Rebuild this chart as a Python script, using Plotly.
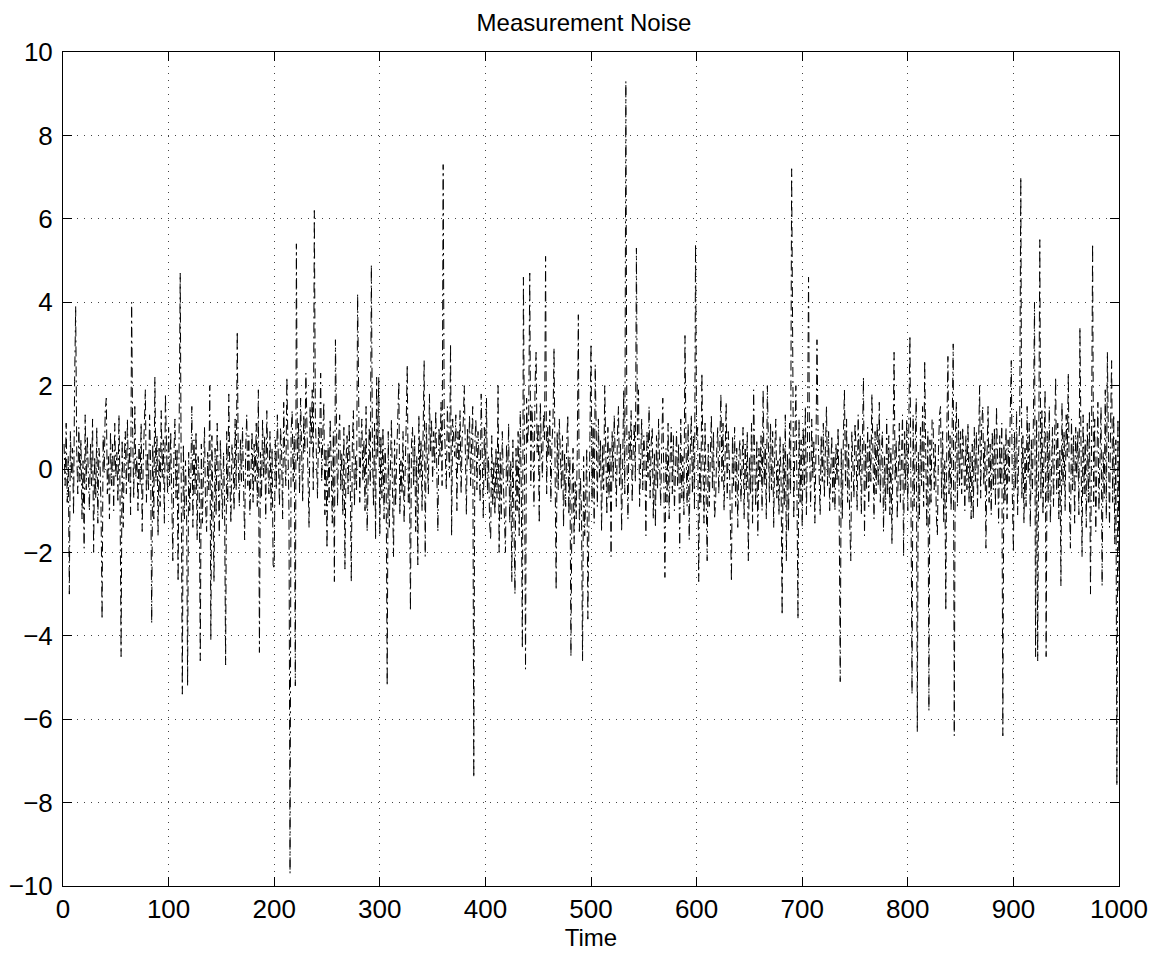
import plotly.graph_objects as go

time = list(range(1, 1001))

noise = [
    0.6, -0.4, 1.1, -0.8, 0.3, -3.0, 0.9, -0.2, 0.5, -1.1,
    2.1, 3.9, 0.4, -0.6, 1.0, -0.3, 0.7, -1.2, 0.2, -1.9,
    1.3, -0.5, 0.8, 0.1, -1.0, 0.6, -0.4, 1.2, -2.0, 0.3,
    -0.7, 1.0, -1.3, 0.5, 0.2, -0.9, -3.6, 0.8, -0.1, 1.4,
    1.7, -0.6, 0.3, -1.2, 0.9, -0.4, 0.6, -1.0, 1.1, -0.2,
    0.4, -0.8, 1.3, -0.5, -4.5, 0.7, -1.4, 0.2, 0.9, -0.6,
    1.2, -0.3, 0.5, -1.1, 4.0, 0.8, -0.7, 1.5, -0.2, 0.3,
    -1.0, 0.6, -0.4, 1.1, -1.5, 0.2, 0.9, 1.9, -0.8, 0.4,
    -0.5, 1.3, 0.1, -3.7, 0.6, -1.2, 2.2, -0.3, 0.8, -1.6,
    0.5, -0.9, 1.4, -0.2, 0.7, -1.3, 1.8, 0.0, -0.6, 1.0,
    -0.4, 0.9, -1.1, -2.2, 0.3, 1.2, -0.7, 0.5, -2.7, 0.1,
    4.7, -0.5, -5.4, 0.6, -1.2, 0.2, -0.8, -5.2, 0.4, -1.0,
    -0.3, 1.5, -1.4, 0.7, -0.6, 0.9, -1.7, 0.3, -0.2, -4.6,
    0.6, -1.3, 0.2, 1.0, -0.9, -1.5, 0.4, -0.5, 2.0, -4.1,
    0.8, -0.6, -2.7, 0.5, -1.1, 1.1, -0.3, -1.6, 0.7, -0.4,
    -1.2, 0.4, -0.7, -4.7, 0.9, -0.8, 1.8, -0.2, -1.3, 0.6,
    0.2, -1.0, 1.2, -0.5, 3.3, 0.1, -0.9, 0.7, -0.3, 1.0,
    -0.6, -1.7, 0.5, 1.3, -0.4, 0.8, -1.1, 0.3, 0.9, -0.8,
    0.6, -0.3, 1.1, -0.9, 1.9, -4.4, 0.4, -0.7, 1.2, -0.2,
    0.8, -1.2, 1.4, 0.1, -0.6, 0.9, -1.0, 0.5, -2.3, -2.4,
    0.7, -0.5, 1.3, 0.2, -0.9, 1.0, 0.4, -1.2, 1.6, 0.3,
    -0.4, 2.2, 0.6, -1.0, -9.7, 0.9, 1.4, -0.3, 0.8, -5.2,
    5.4, 0.2, 1.1, -0.6, 1.7, 0.5, -0.8, 1.3, 0.4, 2.3,
    0.9, -0.2, -1.4, 1.5, 0.6, 1.9, -0.5, 6.2, 1.2, 0.3,
    -0.7, 1.0, 0.4, 2.3, -0.3, 0.8, 1.6, -1.1, 0.5, -1.9,
    0.6, -0.8, 1.2, 0.1, -1.3, 0.9, -2.7, 3.1, 0.3, -0.9,
    0.7, 1.3, -0.5, 0.4, -1.1, 1.0, -2.4, 0.2, 0.8, -0.6,
    1.1, -0.2, -2.7, 0.6, 1.4, -0.9, 0.3, -0.5, 4.2, 0.9,
    -0.8, 0.5, 1.2, -0.3, 0.7, -1.0, 1.5, -1.5, 0.4, 1.0,
    -0.4, 4.9, 0.6, -0.9, 1.1, -1.7, 2.2, 0.3, 2.2, -1.6,
    0.8, -0.7, 1.0, -1.2, 0.5, -0.2, -5.2, 0.9, -1.4, 0.4,
    1.2, -0.5, -2.1, 0.7, -0.9, 0.3, 1.4, 2.1, -1.1, 0.2,
    -0.6, 0.9, -1.3, 0.5, 1.1, 2.5, -0.8, 0.4, -3.4, 0.6,
    1.0, -0.4, 0.8, -1.5, 0.3, -2.3, 1.3, -0.2, 0.7, -1.0,
    0.5, 2.6, -2.1, 1.1, 0.2, -0.6, 1.8, 0.4, 1.2, -0.3,
    0.9, 0.1, 1.4, -0.7, -1.5, 1.0, 0.3, 1.6, -0.4, 7.3,
    1.1, 0.4, -0.5, 1.5, 0.8, -0.2, 3.0, -1.6, 1.2, 0.6,
    0.3, 1.3, -1.0, 0.9, 0.1, 1.4, -0.6, 0.8, 1.1, 2.0,
    0.5, -1.1, 1.0, 0.2, 1.3, -0.4, 0.7, 1.5, -7.4, 0.6,
    1.2, -0.5, 0.9, 0.3, -0.8, 1.8, 0.4, -1.2, 1.0, -0.3,
    1.7, -0.6, 0.3, -1.3, -1.7, 0.8, -0.9, 0.2, -1.1, 0.5,
    -0.7, 2.0, -2.0, 0.4, -1.2, 0.9, -0.3, -1.5, -2.0, 0.6,
    -0.4, 1.1, -1.3, 0.2, -2.7, 0.7, -0.8, -3.0, 0.5, -1.0,
    0.9, -1.6, 1.4, -0.5, -4.3, 4.6, 0.3, -4.8, 1.7, 0.6,
    1.2, 4.7, -0.4, 1.5, 0.8, -0.9, 2.0, 2.8, 0.4, 1.1,
    -1.3, 1.6, 0.5, -0.2, 1.3, 0.7, 5.1, -0.6, 1.0, 0.3,
    1.4, -0.8, 0.6, 1.1, 2.9, -0.3, -2.9, 0.9, -0.5, 1.2,
    0.2, -0.5, 0.8, -1.4, 0.4, -0.9, 0.6, 1.3, -1.1, 0.3,
    -4.5, -0.6, 0.5, -1.8, -0.3, -1.2, 0.4, 3.7, -1.5, -0.2,
    -1.0, -4.6, 0.3, -1.6, -0.7, 0.5, -3.6, -0.4, 0.8, 3.0,
    -0.8, 1.1, -1.3, 2.5, 0.4, -0.9, 1.2, -0.2, 0.7, -1.5,
    0.6, -0.5, 2.0, 0.3, -1.1, 1.0, -0.7, 0.5, -2.1, 0.9,
    -0.3, 1.3, 0.2, -0.9, 0.8, 1.5, -0.4, 0.6, -1.5, 1.0,
    1.9, -0.6, 9.3, 0.4, -1.2, 0.9, 0.2, 1.4, -0.8, 0.5,
    1.1, -0.3, 5.3, 0.7, 1.9, -0.9, 0.4, 1.2, -0.5, 0.8,
    0.3, -1.6, 0.9, -0.2, 1.5, -0.7, 0.6, 1.0, -1.2, 0.4,
    -1.4, 0.8, -0.5, 1.2, 0.1, -0.9, 0.6, 1.7, -0.3, -2.6,
    0.5, -0.8, 1.1, -1.2, 0.3, 1.0, -0.6, 0.8, -1.0, 0.2,
    0.9, -0.4, 0.6, -1.9, 1.2, -0.7, 0.3, -1.1, 3.2, 0.5,
    -0.9, 1.1, -1.7, 0.4, 1.3, -0.6, 0.8, -1.0, 5.4, 0.7,
    1.0, -2.7, 0.5, -0.8, 2.3, 0.2, -1.3, 1.1, -0.4, -2.2,
    0.6, -0.9, 0.3, 1.3, -0.5, 0.9, -1.2, -0.8, 0.4, 1.0,
    -0.6, 0.7, 1.8, -0.3, 1.1, -1.0, 0.5, 1.6, -0.7, 0.9,
    0.2, -1.1, -2.7, 0.8, -0.4, 1.0, -0.9, 0.5, -1.4, 0.3,
    0.7, -0.8, 0.4, 1.0, -1.2, 0.6, -0.5, 0.9, -2.2, 0.3,
    -0.6, 1.1, -1.3, 1.9, 0.2, -0.9, 0.7, -1.6, 0.5, -0.3,
    0.8, -1.0, 1.9, -0.4, 0.6, -1.2, 2.0, 0.3, -0.8, 1.1,
    -0.5, 0.9, -1.4, 0.4, 1.2, -0.7, 0.2, -1.1, 0.8, -0.3,
    -3.5, 0.6, -0.9, 1.3, -2.2, 0.4, -1.5, 1.1, -0.6, 7.2,
    0.9, -1.2, 0.5, 2.0, -0.4, -3.6, 1.2, -0.8, 0.7, -1.4,
    1.0, -0.5, 1.5, -1.1, 0.6, 4.6, 0.3, -0.9, 1.2, -0.2,
    0.7, -1.3, 0.4, 3.1, 0.9, -0.6, -1.1, 0.8, -0.3, 1.1,
    -0.7, 0.5, 1.5, -0.4, 0.9, -1.0, 0.2, 0.8, -0.8, 0.4,
    -1.0, 0.6, -0.3, 1.0, -0.9, -5.1, 0.5, -1.2, 0.8, 1.9,
    -0.4, 1.2, -0.8, 0.6, -1.3, -2.2, 0.9, 0.1, -0.7, 1.1,
    0.5, -1.0, 1.3, -0.2, 0.8, -1.1, 1.4, 2.2, -1.6, 0.6,
    -0.5, 1.0, -0.9, 0.7, -0.3, 1.8, 0.4, -1.2, 0.9, -0.6,
    1.1, -0.4, 1.6, -0.8, 0.5, 0.9, -1.5, 0.3, -1.0, 1.2,
    -0.6, 0.8, -1.1, 0.5, -1.8, 1.0, 2.8, -0.3, 0.7, -1.2,
    0.4, 1.1, -0.8, 0.6, 1.3, -2.1, 0.9, -0.5, 1.2, -1.0,
    0.8, 3.2, -0.6, -5.4, 1.3, -0.9, 0.5, 1.7, -6.3, 0.4,
    -1.2, 1.0, -0.4, 1.5, -0.9, 2.6, 0.3, -1.4, 0.9, -5.8,
    0.7, -0.8, 1.2, 1.1, -0.5, 0.6, -1.1, -1.6, 0.4, 1.3,
    1.5, -0.7, 0.9, -1.3, 0.2, -3.4, 1.0, 2.7, -0.6, 0.8,
    -1.0, 0.5, 3.0, -6.4, 0.7, 1.6, -0.9, 1.2, -0.4, 0.9,
    -0.6, 1.0, 0.3, -1.0, 0.8, -0.5, 1.1, -0.8, 0.4, -1.2,
    0.6, -1.2, 1.0, -0.3, 0.9, -0.9, 0.5, 2.0, -0.7, 1.1,
    1.5, -0.4, 0.7, -1.9, 0.3, 1.5, -0.8, 0.6, -1.1, 0.9,
    -0.5, 1.0, -0.9, 1.5, 0.2, -1.3, 0.8, -0.4, 1.1, -6.4,
    0.6, -0.8, 1.0, -1.2, 0.7, -0.3, 1.3, 2.6, -0.6, -2.0,
    0.9, -0.5, 1.4, -1.1, 0.4, 1.2, 7.0, -0.7, 0.8, -1.3,
    0.5, -0.9, 1.5, -0.2, 1.1, -1.4, 0.7, -0.6, 1.3, 4.0,
    -4.5, 1.2, -4.6, 0.8, 5.5, -0.7, 1.4, -1.1, 0.6, 1.9,
    -4.5, 0.9, -0.8, 1.5, -1.3, 0.4, 1.0, -0.9, 0.7, 2.2,
    -0.6, 1.1, -1.2, 0.5, -2.8, 1.6, -0.4, 0.9, -1.0, 1.3,
    0.3, 2.3, -0.7, -1.9, 1.2, -0.5, 0.8, -1.3, 1.0, -0.2,
    0.9, -1.1, 3.4, 0.4, -2.1, 1.3, -0.6, 0.7, -1.4, 1.1,
    -0.8, 1.4, -3.0, 0.6, 5.4, -0.9, 1.2, -1.5, 0.5, 1.6,
    -1.0, 0.8, 1.5, -2.8, 0.4, -0.7, 1.9, -1.2, 2.8, 0.6,
    -1.4, 1.0, 2.6, -0.8, 1.3, -1.8, 0.7, -7.6, 1.2, -3.0,
]

x_ticks = [0, 100, 200, 300, 400, 500, 600, 700, 800, 900, 1000]
y_ticks = [-10, -8, -6, -4, -2, 0, 2, 4, 6, 8, 10]

FONT = "Liberation Sans, Arial, Helvetica, sans-serif"

# the page body has an 8px margin, so the figure origin sits at (8, 8)
W, H = 1152, 951

fig = go.Figure()
fig.add_trace(go.Scatter(
    x=time, y=noise, mode="lines",
    line=dict(color="black", width=1, dash="10px,4px,2px,4px"),
    showlegend=False, hoverinfo="skip",
))

axis_common = dict(
    showline=True, linecolor="black", linewidth=1, mirror="ticks",
    ticks="inside", ticklen=9, tickcolor="black", tickwidth=1,
    showgrid=True, gridcolor="#444444", gridwidth=1, griddash="1px,6px",
    zeroline=False,
    tickfont=dict(family=FONT, size=26, color="black"),
)

fig.update_layout(
    width=W, height=H,
    margin=dict(l=55, r=41, t=44, b=73, autoexpand=False),
    paper_bgcolor="white", plot_bgcolor="white",
    title=dict(text="Measurement Noise", x=0.5, xanchor="center",
               y=1 - 15 / H, yref="container", yanchor="middle",
               font=dict(family=FONT, size=24, color="black")),
    xaxis=dict(range=[0, 1000], tickvals=x_ticks,
               title=dict(text="Time", standoff=2,
                          font=dict(family=FONT, size=24, color="black")),
               **axis_common),
    yaxis=dict(range=[-10, 10], tickvals=y_ticks, ticklabelstandoff=4,
               **axis_common),
)

fig.write_html("out.html")
